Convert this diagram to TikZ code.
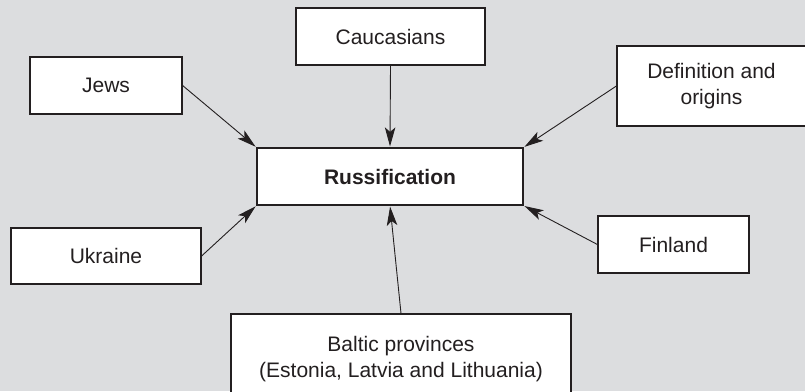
\documentclass[tikz,border=0pt]{standalone}
\usepackage{fontspec}
\setmainfont{Liberation Sans}
\usetikzlibrary{arrows.meta}
\definecolor{bggrey}{RGB}{220,221,223}
\definecolor{ink}{RGB}{35,31,32}
\begin{document}
\begin{tikzpicture}[x=1pt,y=-1pt,
  topic/.style={draw=ink, fill=white, line width=1.2pt, rectangle, inner sep=0pt,
    align=center, text=ink, font=\fontsize{21}{26.5}\selectfont},
  feed/.style={draw=ink, line width=0.9pt, shorten >=1pt,
    -{Stealth[length=19pt,width=10.5pt,inset=4.5pt]}}]
  % page and backdrop
  \useasboundingbox (0,0) rectangle (805,391);
  \fill[bggrey] (0,0) rectangle (805,391);

  % central theme
  \node[topic, minimum width=266pt, minimum height=57pt, font=\fontsize{21}{26.5}\selectfont\bfseries]
    (russ) at (390,176.5) {Russification};

  % surrounding topics
  \node[topic, minimum width=189pt, minimum height=57pt] (cauc) at (390.5,36.5) {Caucasians};
  \node[topic, minimum width=152pt, minimum height=57pt] (jews) at (106,85.5) {Jews};
  \node[topic, minimum width=189pt, minimum height=80pt] (defn) at (711.5,86) {Definition and\\origins};
  \node[topic, minimum width=190pt, minimum height=56pt] (ukr) at (106,256) {Ukraine};
  \node[topic, minimum width=151pt, minimum height=57pt] (fin) at (673.5,244.5) {Finland};
  \node[topic, minimum width=340pt, minimum height=90pt] (balt) at (401,359)
    {Baltic provinces\\(Estonia, Latvia and Lithuania)};

  % connectors into the central theme
  \draw[feed] (cauc.south) -- (russ.north);
  \draw[feed] (jews.east) -- (russ.north west);
  \draw[feed] (defn.west) -- (russ.north east);
  \draw[feed] (ukr.east) -- (russ.south west);
  \draw[feed] (fin.west) -- (russ.south east);
  \draw[feed] (balt.north) -- (russ.south);
\end{tikzpicture}
\end{document}
